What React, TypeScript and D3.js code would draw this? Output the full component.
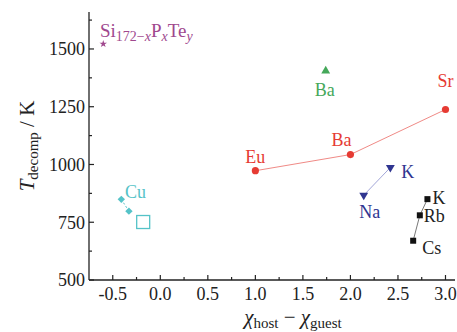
import React from "react";
import * as d3 from "d3";

// values
const siPoint = [{ x: -0.6, y: 1522 }];
const baGreen = [{ x: 1.74, y: 1405 }];
const redSeries = [
  { name: "Eu", x: 1.0, y: 973 },
  { name: "Ba", x: 2.0, y: 1043 },
  { name: "Sr", x: 3.0, y: 1238 },
];
const blueSeries = [
  { name: "Na", x: 2.14, y: 867 },
  { name: "K", x: 2.42, y: 987 },
];
const blackSeries = [
  { name: "K", x: 2.81, y: 850 },
  { name: "Rb", x: 2.73, y: 780 },
  { name: "Cs", x: 2.66, y: 670 },
];
const cuSeries = [
  { x: -0.41, y: 849 },
  { x: -0.33, y: 798 },
];
const cuOpen = [{ x: -0.18, y: 751 }];

const xMajor = [-0.5, 0, 0.5, 1.0, 1.5, 2.0, 2.5, 3.0];
const xMinor = [-0.25, 0.25, 0.75, 1.25, 1.75, 2.25, 2.75];
const yMajor = [500, 750, 1000, 1250, 1500];
const yMinor = [625, 875, 1125, 1375, 1625];

const RED = "#e63b33";
const GREEN = "#45a85a";
const BLUE = "#2f3590";
const CYAN = "#55c3c8";
const PURPLE = "#a0488e";
const ff = { fontFamily: "Liberation Serif" };

const App = () => {
  const width = 457;
  const height = 332;
  const left = 89, right = 455, top = 12, bottom = 280;

  const x = d3.scaleLinear().domain([-0.75, 3.1]).range([left, right]);
  const y = d3.scaleLinear().domain([500, 1660]).range([bottom, top]);

  const line = d3.line<{ x: number; y: number }>()
    .x(d => x(d.x))
    .y(d => y(d.y));

  const tri = d3.symbol().type(d3.symbolTriangle).size(34)();
  const star = d3.symbol().type(d3.symbolStar).size(18)();

  const fmtX = (v: number) => (v < 0 ? "-" : "") + Math.abs(v).toFixed(1);

  return (
    <svg width={width} height={height} style={{ position: "absolute", left: 0, top: 0 }}>
      <rect width={width} height={height} fill="#fff" />

      {/* axes */}
      <line x1={left} x2={left} y1={top} y2={bottom} stroke="#222" strokeWidth={1.3} />
      <line x1={left} x2={right} y1={bottom} y2={bottom} stroke="#222" strokeWidth={1.3} />
      {yMajor.map(v => (
        <g key={"ym" + v}>
          <line x1={left} x2={left + 5} y1={y(v)} y2={y(v)} stroke="#222" strokeWidth={1.2} />
          <text x={left - 4} y={y(v)} dy="0.35em" textAnchor="end" fontSize={18} fill="#222" style={ff}>{v}</text>
        </g>
      ))}
      {yMinor.map(v => (
        <line key={"yn" + v} x1={left} x2={left + 3} y1={y(v)} y2={y(v)} stroke="#222" strokeWidth={1.2} />
      ))}
      {xMajor.map(v => (
        <g key={"xm" + v}>
          <line x1={x(v)} x2={x(v)} y1={bottom} y2={bottom - 5} stroke="#222" strokeWidth={1.2} />
          <text x={x(v)} y={bottom + 20} textAnchor="middle" fontSize={18} fill="#222" style={ff}>{fmtX(v)}</text>
        </g>
      ))}
      {xMinor.map(v => (
        <line key={"xn" + v} x1={x(v)} x2={x(v)} y1={bottom} y2={bottom - 3} stroke="#222" strokeWidth={1.2} />
      ))}

      {/* axis titles */}
      <text x={293} y={324} textAnchor="middle" fontSize={21} fill="#222" style={ff}>
        <tspan fontStyle="italic">χ</tspan>
        <tspan fontSize={15} dy={4}>host</tspan>
        <tspan dy={-4}> − </tspan>
        <tspan fontStyle="italic">χ</tspan>
        <tspan fontSize={15} dy={4}>guest</tspan>
      </text>
      <text transform="translate(34,146) rotate(-90)" textAnchor="middle" fontSize={21} fill="#222" style={ff}>
        <tspan fontStyle="italic">T</tspan>
        <tspan fontSize={15} dy={4}>decomp</tspan>
        <tspan dy={-4}> / K</tspan>
      </text>

      {/* Si172-xPxTey */}
      {siPoint.map((d, i) => (
        <path key={"si" + i} d={star!} transform={`translate(${x(d.x)},${y(d.y)})`} fill={PURPLE} />
      ))}
      <text x={100} y={37} fontSize={19} fill={PURPLE} style={ff}>
        Si<tspan fontSize={14} dy={4}>172−</tspan>
        <tspan fontSize={14} fontStyle="italic">x</tspan>
        <tspan dy={-4}>P</tspan>
        <tspan fontSize={14} fontStyle="italic" dy={4}>x</tspan>
        <tspan dy={-4}>Te</tspan>
        <tspan fontSize={14} fontStyle="italic" dy={4}>y</tspan>
      </text>

      {/* Ba (green) */}
      {baGreen.map((d, i) => (
        <g key={"bg" + i}>
          <path d={tri!} transform={`translate(${x(d.x)},${y(d.y)})`} fill={GREEN} />
          <text x={x(d.x) - 1} y={y(d.y) + 25} textAnchor="middle" fontSize={18} fill={GREEN} style={ff}>Ba</text>
        </g>
      ))}

      {/* red series */}
      <path d={line(redSeries)!} fill="none" stroke="#f08a86" strokeWidth={1} />
      {redSeries.map(d => (
        <circle key={"r" + d.name} cx={x(d.x)} cy={y(d.y)} r={3.6} fill={RED} />
      ))}
      <text x={x(1.0)} y={y(973) - 8} textAnchor="middle" fontSize={18} fill={RED} style={ff}>Eu</text>
      <text x={x(2.0) - 9} y={y(1043) - 9} textAnchor="middle" fontSize={18} fill={RED} style={ff}>Ba</text>
      <text x={x(3.0)} y={y(1238) - 22} textAnchor="middle" fontSize={18} fill={RED} style={ff}>Sr</text>

      {/* blue series */}
      <path d={line(blueSeries)!} fill="none" stroke="#a2a6d8" strokeWidth={1} />
      {blueSeries.map(d => (
        <path key={"b" + d.name} d={tri!} transform={`translate(${x(d.x)},${y(d.y)}) rotate(180)`} fill={BLUE} />
      ))}
      <text x={x(2.14) + 6} y={y(867) + 23} textAnchor="middle" fontSize={18} fill={BLUE} style={ff}>Na</text>
      <text x={x(2.42) + 11} y={y(987) + 11} fontSize={18} fill={BLUE} style={ff}>K</text>

      {/* black series */}
      <path d={line(blackSeries)!} fill="none" stroke="#555" strokeWidth={0.8} />
      {blackSeries.map(d => (
        <rect key={"k" + d.name} x={x(d.x) - 3} y={y(d.y) - 3} width={6} height={6} fill="#111" />
      ))}
      <text x={x(2.81) + 5} y={y(850) + 5} fontSize={18} fill="#222" style={ff}>K</text>
      <text x={x(2.73) + 4} y={y(780) + 7} fontSize={18} fill="#222" style={ff}>Rb</text>
      <text x={x(2.66) + 9} y={y(670) + 13} fontSize={18} fill="#222" style={ff}>Cs</text>

      {/* Cu */}
      <path d={line(cuSeries)!} fill="none" stroke={CYAN} strokeWidth={1} strokeDasharray="2,2" />
      {cuSeries.map((d, i) => (
        <rect key={"c" + i} x={-2.6} y={-2.6} width={5.2} height={5.2} fill={CYAN}
          transform={`translate(${x(d.x)},${y(d.y)}) rotate(45)`} />
      ))}
      {cuOpen.map((d, i) => (
        <rect key={"co" + i} x={x(d.x) - 6.5} y={y(d.y) - 6.5} width={13} height={13} fill="none" stroke={CYAN} strokeWidth={1.3} />
      ))}
      <text x={125} y={198} fontSize={18} fill={CYAN} style={ff}>Cu</text>
    </svg>
  );
};

export default App;
